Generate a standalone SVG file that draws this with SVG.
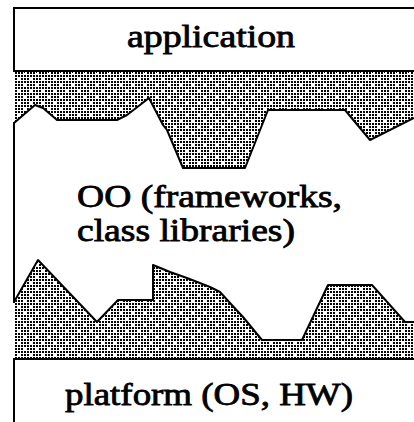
<svg xmlns="http://www.w3.org/2000/svg" width="414" height="422" viewBox="0 0 414 422">
  <defs>
    <!-- stipple fill: 3px dot grid with a few dots left out -->
    <pattern id="stipple" x="15" y="72" width="12" height="12" patternUnits="userSpaceOnUse">
      <rect x="0" y="0" width="2" height="2"/>
      <rect x="3" y="0" width="2" height="2"/>
      <rect x="6" y="0" width="2" height="2"/>
      <rect x="0" y="3" width="2" height="2"/>
      <rect x="3" y="3" width="2" height="2"/>
      <rect x="6" y="3" width="2" height="2"/>
      <rect x="9" y="3" width="2" height="2"/>
      <rect x="0" y="6" width="2" height="2"/>
      <rect x="6" y="6" width="2" height="2"/>
      <rect x="9" y="6" width="2" height="2"/>
      <rect x="0" y="9" width="2" height="2"/>
      <rect x="3" y="9" width="2" height="2"/>
      <rect x="6" y="9" width="2" height="2"/>
      <rect x="9" y="9" width="2" height="2"/>
    </pattern>
  </defs>
  <style>
    .box { fill: #fff; stroke: #000; stroke-width: 2; }
    .edge { fill: none; stroke: #000; stroke-width: 2; stroke-linejoin: round; }
    .dots { fill: url(#stipple); stroke: none; }
    .label { font-family: "Liberation Serif", "Times New Roman", serif; font-size: 31px; fill: #000; stroke: #000; stroke-width: 0.8; }
  </style>

  <rect width="414" height="422" fill="#fff"/>

  <!-- application layer -->
  <g id="application">
    <rect class="box" x="14" y="8" width="420" height="63"/>
    <text class="label" x="127" y="47" textLength="168" lengthAdjust="spacingAndGlyphs">application</text>
  </g>

  <!-- irregular boundary below the application layer -->
  <g id="upper-band">
    <polygon class="dots" points="15,72 414,72 414,118 370,140 345,110 268,110 245,168 183,168 167,130 163,125 149,98 127,115 117,120 57,120 43,108 35,105 15,123"/>
    <polyline class="edge" points="14,123 35,105 43,108 57,120 117,120 127,115 149,98 163,125 167,130 183,168 245,168 268,110 345,110 370,140 414,118"/>
    <line class="edge" x1="15" y1="72" x2="414" y2="72" stroke-dasharray="1 2"/>
  </g>

  <!-- OO middle layer -->
  <g id="oo-layer">
    <line class="edge" x1="14" y1="122" x2="14" y2="303"/>
    <text class="label" x="77" y="207" textLength="265" lengthAdjust="spacingAndGlyphs">OO (frameworks,</text>
    <text class="label" x="77" y="241" textLength="218" lengthAdjust="spacingAndGlyphs">class libraries)</text>
  </g>

  <!-- irregular boundary above the platform layer -->
  <g id="lower-band">
    <polygon class="dots" points="15,302 38,260 97,322 118,300 153,300 153,265 170,272 187,278 210,287 220,292 230,303 243,317 262,340 302,340 328,285 372,285 405,322 414,322 414,358 15,358"/>
    <polyline class="edge" points="14,302 38,260 97,322 118,300 153,300 153,265 170,272 187,278 210,287 220,292 230,303 243,317 262,340 302,340 328,285 372,285 405,322 414,322"/>
  </g>

  <!-- platform layer -->
  <g id="platform">
    <rect class="box" x="14" y="359" width="420" height="80"/>
    <text class="label" x="65" y="405" textLength="288" lengthAdjust="spacingAndGlyphs">platform (OS, HW)</text>
  </g>
</svg>
